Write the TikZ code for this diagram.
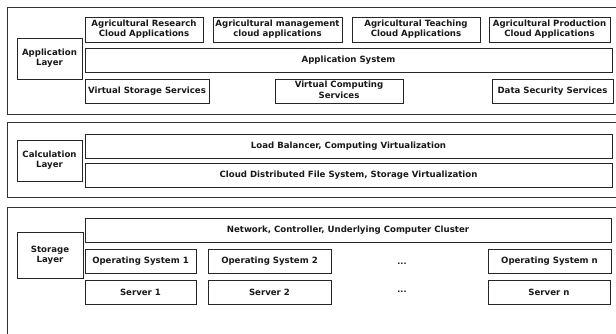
\documentclass[tikz,border=0pt]{standalone}
\usepackage{fontspec}
\setmainfont{DejaVu Sans}
\newcommand{\mybox}[6]{\node[bx,minimum width={(#4-#2)*1pt},minimum height={(#5-#3)*1pt}] (#1) at ({(#2+#4)/2},{(#3+#5)/2}) {#6};}
\newcommand{\myouter}[5]{\node[outerbx,minimum width={(#4-#2)*1pt},minimum height={(#5-#3)*1pt}] (#1) at ({(#2+#4)/2},{(#3+#5)/2}) {};}
\begin{document}
\begin{tikzpicture}[x=1pt,y=-1pt,
  bx/.style={draw=black!85,line width=0.8pt,align=center,inner sep=0pt,
    font=\bfseries\fontsize{8.6}{10}\selectfont,text=black!90},
  outerbx/.style={draw=black!80,line width=0.9pt,inner sep=0pt},
  dotsnode/.style={font=\bfseries\fontsize{8}{10}\selectfont,text=black!90,inner sep=0pt}]
\useasboundingbox[fill=white] (0,0) rectangle (616,333);
\clip (0,0) rectangle (616,333);
% Application layer
\myouter{outerA}{7}{7}{640}{114}
\mybox{appL}{17}{38}{82}{79}{Application\\Layer}
\mybox{ar}{85}{17}{203}{42}{Agricultural Research\\Cloud Applications}
\mybox{am}{213}{17}{342}{42}{Agricultural management\\cloud applications}
\mybox{at}{352}{17}{480}{42}{Agricultural Teaching\\Cloud Applications}
\mybox{ap}{489}{17}{610}{42}{Agricultural Production\\Cloud Applications}
\mybox{as}{85}{48}{612}{72}{Application System}
\mybox{vs}{85}{79}{209}{103}{Virtual Storage Services}
\node[bx,minimum width=128pt,minimum height=24pt,text depth=0pt] (vc) at (339,91) {\raisebox{3pt}{\shortstack{Virtual Computing\\Services}}};
\mybox{ds}{492}{79}{613}{103}{Data Security Services}
% Calculation layer
\myouter{outerC}{7}{122}{640}{197}
\mybox{calcL}{17}{140}{82}{181}{Calculation\\Layer}
\mybox{lb}{85}{134}{612}{158}{Load Balancer, Computing Virtualization}
\mybox{cd}{85}{163}{612}{187}{Cloud Distributed File System, Storage Virtualization}
% Storage layer
\myouter{outerS}{7}{207}{640}{350}
\mybox{stL}{17}{232}{83}{278}{Storage\\Layer}
\mybox{net}{85}{218}{611}{242}{Network, Controller, Underlying Computer Cluster}
\mybox{os1}{85}{249}{196}{273}{Operating System 1}
\mybox{os2}{208}{249}{331}{273}{Operating System 2}
\mybox{osn}{488}{249}{611}{273}{Operating System n}
\mybox{s1}{85}{280}{196}{304}{Server 1}
\mybox{s2}{208}{280}{331}{304}{Server 2}
\mybox{sn}{488}{280}{610}{304}{Server n}
\node[dotsnode] (d1) at (402,264) {...};
\node[dotsnode] (d2) at (402,292) {...};
\end{tikzpicture}
\end{document}
